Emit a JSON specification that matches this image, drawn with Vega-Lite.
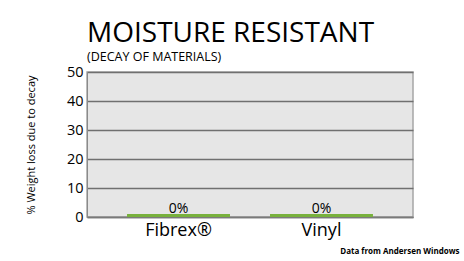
{
  "$schema": "https://vega.github.io/schema/vega-lite/v6.json",
  "width": 326,
  "height": 145,
  "autosize": "none",
  "padding": {"left": 87, "top": 72, "right": 51, "bottom": 44},
  "background": "white",
  "title": {
    "text": "MOISTURE RESISTANT",
    "subtitle": "(DECAY OF MATERIALS)",
    "anchor": "start",
    "frame": "group",
    "font": "Open Sans",
    "fontSize": 28,
    "fontWeight": "normal",
    "color": "#000000",
    "subtitleFont": "Open Sans",
    "subtitleFontSize": 12.5,
    "subtitleColor": "#000000",
    "subtitlePadding": 3,
    "offset": 1
  },
  "data": {
    "values": [
      {"material": "Fibrex®", "loss": 0},
      {"material": "Vinyl", "loss": 0}
    ]
  },
  "config": {
    "view": {"fill": "#e6e6e6", "stroke": "#a6a6a6", "strokeWidth": 1.5}
  },
  "encoding": {
    "x": {
      "field": "material",
      "type": "nominal",
      "sort": null,
      "scale": {"paddingInner": 0.28, "paddingOuter": 0.28},
      "axis": {
        "title": "Data from Andersen Windows",
        "titleFont": "Open Sans",
        "titleFontSize": 8,
        "titleFontWeight": "bold",
        "titleColor": "#000000",
        "titleAnchor": "end",
        "titleAlign": "right",
        "titleX": 372,
        "titleY": 36,
        "titleBaseline": "alphabetic",
        "labelAngle": 0,
        "labelFont": "Open Sans",
        "labelFontSize": 18,
        "labelColor": "#000000",
        "labelPadding": 4,
        "ticks": false,
        "domainColor": "#7a7a7a",
        "domainWidth": 1.5
      }
    },
    "y": {
      "field": "loss",
      "type": "quantitative",
      "scale": {"domain": [0, 50]},
      "axis": {
        "values": [0, 10, 20, 30, 40, 50],
        "title": "% Weight loss due to decay",
        "titleFont": "Open Sans",
        "titleFontSize": 11,
        "titleFontWeight": "normal",
        "titleColor": "#000000",
        "titlePadding": 30,
        "labelFont": "Open Sans",
        "labelFontSize": 14.5,
        "labelColor": "#000000",
        "labelPadding": 4,
        "labelOverlap": false,
        "ticks": false,
        "domainColor": "#8a8a8a",
        "domainWidth": 1,
        "grid": true,
        "gridColor": "#707070",
        "gridWidth": 1.5
      }
    }
  },
  "layer": [
    {
      "mark": {"type": "bar", "color": "#78b13c", "stroke": "#78b13c", "strokeWidth": 3, "yOffset": -1.5}
    },
    {
      "mark": {"type": "text", "font": "Open Sans", "fontSize": 14, "color": "#000000", "baseline": "alphabetic", "dy": -4},
      "encoding": {
        "text": {"value": "0%"}
      }
    }
  ]
}
